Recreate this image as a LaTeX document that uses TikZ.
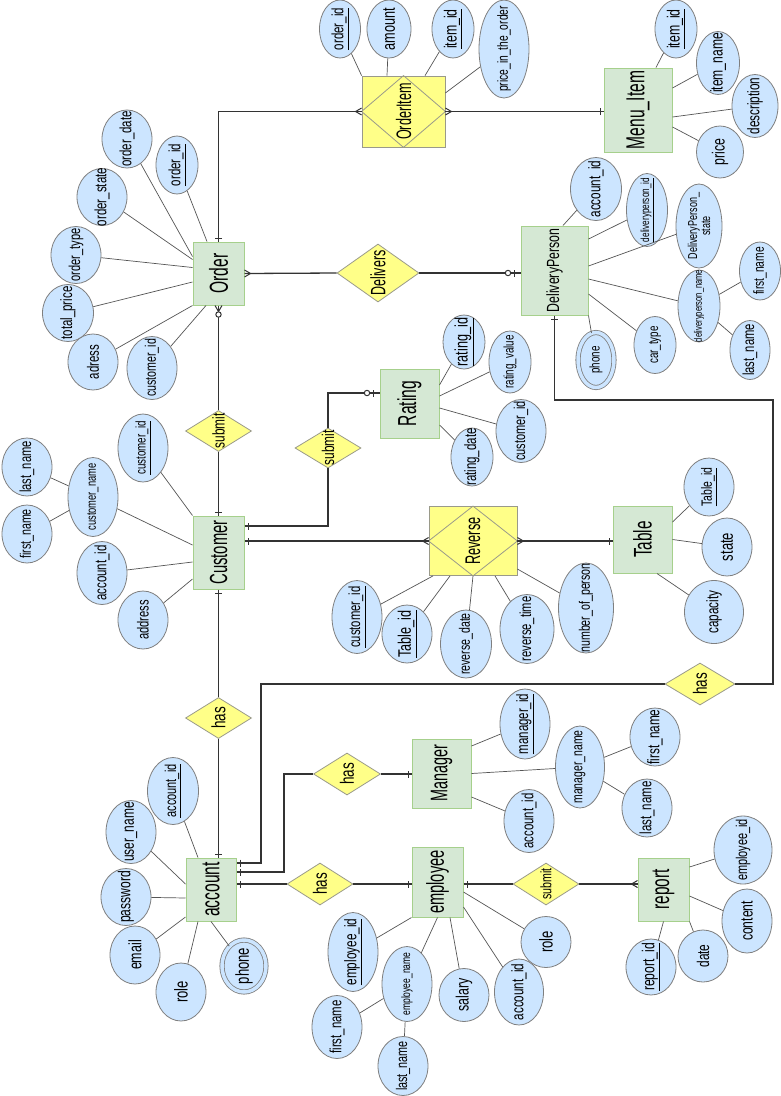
\documentclass[tikz,border=0pt]{standalone}
\usepackage{fontspec}
\setmainfont[FakeStretch=0.7]{Liberation Sans}
\newfontfamily\entf[FakeStretch=0.6]{Liberation Sans}
\usetikzlibrary{shapes.geometric,decorations.markings}
\definecolor{entfill}{HTML}{D5E8D4}
\definecolor{entline}{HTML}{A6D08C}
\definecolor{attrfill}{HTML}{CCE5FF}
\definecolor{attrline}{HTML}{7F7F7F}
\definecolor{relfill}{HTML}{FFFF88}
\definecolor{relline}{HTML}{9A9A8A}
\definecolor{conn}{HTML}{333333}
\definecolor{aconn}{HTML}{555555}
\newcommand{\fs}[1]{\fontsize{#1}{#1}\selectfont}
\tikzset{
 attr/.style 2 args={ellipse, draw=attrline, fill=attrfill, line width=0.8pt, minimum width=#1pt, minimum height=#2pt, inner sep=0pt},
 multi/.style={double=attrfill, double distance=3.5pt},
 ent/.style 2 args={rectangle, draw=entline, fill=entfill, line width=1pt, minimum width=#1pt, minimum height=#2pt, inner sep=0pt},
 rel/.style 2 args={diamond, draw=relline, fill=relfill, line width=0.8pt, minimum width=#1pt, minimum height=#2pt, inner sep=0pt},
 assoc/.style 2 args={rectangle, draw=relline, fill=relfill, line width=0.8pt, minimum width=#1pt, minimum height=#2pt, inner sep=0pt},
 lt/.style={rotate=90, inner sep=0pt, align=center, font=\fs{14}},
 al/.style={draw=aconn, line width=0.7pt},
 rl/.style={draw=conn, color=conn, line width=1.3pt},
 oneS/.style={postaction={decorate,decoration={markings,mark=at position 3.5pt with {\draw[line width=1pt] (0,-3.5pt)--(0,3.5pt);}}}},
 oneE/.style={postaction={decorate,decoration={markings,mark=at position -3.5pt with {\draw[line width=1pt] (0,-3.5pt)--(0,3.5pt);}}}},
 manyS/.style={postaction={decorate,decoration={markings,mark=at position 6pt with {\draw[line width=1pt] (0,0)--(-6pt,3.5pt) (0,0)--(-6pt,-3.5pt);}}}},
 manyE/.style={postaction={decorate,decoration={markings,mark=at position -6pt with {\draw[line width=1pt] (0,0)--(6pt,3.5pt) (0,0)--(6pt,-3.5pt);}}}},
 zoneE/.style={postaction={decorate,decoration={markings,mark=at position -6pt with {\draw[line width=1pt] (0,-3.5pt)--(0,3.5pt);}}},
               postaction={decorate,decoration={markings,mark=at position -12.5pt with {\draw[line width=1pt,fill=white] (0,0) circle (2.7pt);}}}},
 zmanyS/.style={postaction={decorate,decoration={markings,mark=at position 6pt with {\draw[line width=1pt] (0,0)--(-6pt,3.5pt) (0,0)--(-6pt,-3.5pt);}}},
               postaction={decorate,decoration={markings,mark=at position 9pt with {\draw[line width=1pt,fill=white] (0,0) circle (2.7pt);}}}},
}
% \An[opts]{name}{x,y}{w}{h}{fontsize}{text}
\newcommand{\An}[7][]{\node[attr={#4}{#5},#1,label={[lt,font=\fs{#6}]center:#7}] (#2) at (#3) {};}
\newcommand{\En}[6]{\node[ent={#3}{#4},label={[lt,font=\entf\fs{#5}]center:#6}] (#1) at (#2) {};}
\newcommand{\Rn}[6]{\node[rel={#3}{#4},label={[lt,font=\fs{#5}]center:#6}] (#1) at (#2) {};}
\begin{document}
\begin{tikzpicture}[x=1pt,y=-1pt]
\fill[white] (0,0) rectangle (781,1096);
\useasboundingbox (0,0) rectangle (781,1096);

% ---------- entities and relationships ----------
\En{order}{218.5,273.5}{51}{63}{26}{Order}
\node[assoc={83}{71}] (oi) at (403.5,111.5) {};
\draw[draw=relline, line width=0.8pt] (oi.west) -- (oi.north) -- (oi.east) -- (oi.south) -- cycle;
\node[lt, font=\entf\fs{21}] (oi-t) at (oi) {OrderItem};
\En{menu}{638,110}{68}{84}{26}{Menu\_Item}
\node[ent={67}{89},label={[lt,font=\fs{17.6}]center:DeliveryPerson}] (dp) at (554.5,270.5) {};
\Rn{delivers}{378,273}{82}{58}{20.8}{{\entf Delivers}}
\En{cust}{218.5,552.5}{51}{73}{24.7}{Customer}
\Rn{sub1}{218.5,431}{66}{41}{17}{submit}
\En{rating}{409.5,403.5}{59}{69}{26}{Rating}
\Rn{sub2}{328,448}{66}{40}{17}{submit}
\node[assoc={88}{69}] (rev) at (473,541) {};
\draw[draw=relline, line width=0.8pt] (rev.west) -- (rev.north) -- (rev.east) -- (rev.south) -- cycle;
\node[lt, font=\entf\fs{21.2}] (rev-t) at (rev) {Reverse};
\En{table}{642.5,539.5}{59}{67}{25.5}{Table}
\Rn{has1}{218.5,718}{66}{41}{19.3}{has}
\Rn{has2}{700,684}{70}{42}{19.3}{has}
\En{acc}{211,889.5}{50}{63}{26}{account}
\Rn{has3}{347,774}{67}{42}{19.3}{has}
\En{mgr}{441.5,773.5}{59}{69}{24}{Manager}
\Rn{has4}{320,884}{66}{42}{19.3}{has}
\En{emp}{437.5,882}{51}{70}{24.4}{employee}
\Rn{sub3}{546,884}{66}{42}{15.2}{submit}
\En{rep}{663.5,889.5}{51}{63}{25.6}{report}

% ---------- attributes ----------
% Order
\An{o-id}{177,165}{42}{58}{16.4}{\underline{order\_id}}
\An{o-date}{127,139}{50}{58}{16.4}{order\_date}
\An{o-state}{102,197}{50}{57}{16.4}{order\_state}
\An{o-type}{76,255}{50}{57}{15.8}{order\_type}
\An{o-price}{68,313}{51}{57}{16.4}{total\_price}
\An{o-adr}{93,362}{50}{56}{16.4}{adress}
\An{o-cust}{152,368}{50}{63}{15.2}{customer\_id}
% OrderItem
\An{oi-oid}{340,29}{41}{58}{16.4}{\underline{order\_id}}
\An{oi-amt}{389,29}{44}{58}{18.1}{amount}
\An{oi-iid}{453,29}{42}{58}{17.6}{\underline{item\_id}}
\An{oi-price}{504,49}{50}{98}{14.7}{price\_in\_the\_order}
% Menu_Item
\An{mi-id}{676,29}{42}{58}{17.6}{\underline{item\_id}}
\An{mi-name}{718,63}{43}{63}{17.3}{item\_name}
\An{mi-desc}{755,106}{46}{63}{16.8}{description}
\An{mi-price}{720,152}{47}{52}{17.6}{price}
% DeliveryPerson
\An{dp-acc}{596,189}{51}{63}{16.8}{account\_id}
\An{dp-id}{647,210}{41}{73}{11.7}{\underline{deliveryperson\_id}}
\An{dp-state}{699,226}{46}{84}{12.9}{DeliveryPerson\_\\state}
\An{dp-name}{699,306}{42}{72}{10.8}{deliveryperson\_name}
\An{dp-fn}{760,271}{41}{58}{14.6}{first\_name}
\An{dp-ln}{750,350}{40}{59}{16}{last\_name}
\An{dp-car}{655,345}{42}{57}{14}{car\_type}
\An[multi]{dp-phone}{596,360}{36}{55}{14}{phone}
% Customer
\An{c-id}{143,448}{50}{68}{14}{\underline{customer\_id}}
\An{c-name}{93,497}{50}{79}{13.3}{customer\_name}
\An{c-ln}{27,467}{50}{58}{16}{last\_name}
\An{c-fn}{27,534}{50}{58}{15.2}{first\_name}
\An{c-acc}{102,573}{50}{63}{16.4}{account\_id}
\An{c-adr}{143,620}{50}{58}{16}{address}
% Rating
\An{r-id}{464,342}{42}{54}{18.1}{\underline{rating\_id}}
\An{r-val}{510,362}{42}{62}{14}{rating\_value}
\An{r-cust}{521,431}{50}{63}{15.7}{customer\_id}
\An{r-date}{472,457}{42}{58}{16.4}{rating\_date}
% Table
\An{t-id}{709,487}{50}{58}{14.9}{\underline{Table\_id}}
\An{t-state}{727,547}{50}{58}{18.6}{state}
\An{t-cap}{714,612}{59}{63}{16.7}{capacity}
% Reverse
\An{rv-cust}{357,617}{50}{73}{16.1}{\underline{customer\_id}}
\An{rv-tid}{407,634}{50}{58}{18.1}{\underline{Table\_id}}
\An{rv-date}{466,644}{51}{68}{15.1}{reverse\_date}
\An{rv-time}{527,629}{54}{69}{16}{reverse\_time}
\An{rv-num}{586,608}{55}{90}{15.2}{number\_of\_person}
% Manager
\An{m-id}{525,724}{50}{70}{16.4}{\underline{manager\_id}}
\An{m-name}{580,767}{49}{82}{14.9}{manager\_name}
\An{m-fn}{655,737}{50}{58}{16.8}{first\_name}
\An{m-ln}{647,808}{50}{58}{16.4}{last\_name}
\An{m-acc}{529,821}{50}{63}{16.3}{account\_id}
% employee
\An{e-id}{353,952}{50}{79}{16.8}{\underline{employee\_id}}
\An{e-name}{407,984}{50}{75}{12.2}{employee\_name}
\An{e-fn}{337,1027}{50}{63}{16.3}{first\_name}
\An{e-ln}{403,1066}{50}{59}{15.4}{last\_name}
\An{e-sal}{464,995}{50}{53}{17.8}{salary}
\An{e-acc}{519,992}{49}{66}{16.7}{account\_id}
\An{e-role}{546,942}{50}{51}{18.6}{role}
% report
\An{rp-emp}{743,850}{58}{68}{15.6}{employee\_id}
\An{rp-cont}{747,921}{50}{64}{17.4}{content}
\An{rp-date}{703,956}{50}{52}{17}{date}
\An{rp-id}{651,967}{50}{56}{17.3}{\underline{report\_id}}
% account
\An{a-id}{173,791}{51}{67}{15.7}{\underline{account\_id}}
\An{a-user}{131,832}{50}{63}{17.1}{user\_name}
\An{a-pass}{126,897}{50}{57}{17.3}{password}
\An{a-mail}{135,955}{50}{58}{17.9}{email}
\An{a-role}{181,992}{50}{58}{18.6}{role}
\An[multi]{a-phone}{244,966}{44}{52}{18.7}{phone}

% ---------- attribute links ----------
\draw[al] (o-id) -- ([xshift=-11.5pt]order.north);
\draw[al] (o-date) -- ([yshift=17pt]order.west);
\draw[al] (o-state) -- ([yshift=14pt]order.west);
\draw[al] (o-type) -- ([yshift=6pt]order.west);
\draw[al] (o-price) -- ([yshift=-8.5pt]order.west);
\draw[al] (o-adr) -- (order.south west);
\draw[al] (o-cust) -- ([xshift=-12.5pt]order.south);

\draw[al] (oi-oid) -- (oi.north west);
\draw[al] (oi-amt) -- ([xshift=-16.5pt]oi.north);
\draw[al] (oi-iid) -- ([xshift=21.5pt]oi.north);
\draw[al] (oi-price) -- ([yshift=18.5pt]oi.east);

\draw[al] (mi-id) -- ([xshift=18pt]menu.north);
\draw[al] (mi-name) -- ([yshift=22pt]menu.east);
\draw[al] (mi-desc) -- ([yshift=-7pt]menu.east);
\draw[al] (mi-price) -- ([yshift=-17pt]menu.east);

\draw[al] (dp-acc) -- ([xshift=8.5pt]dp.north);
\draw[al] (dp-id) -- ([yshift=31.5pt]dp.east);
\draw[al] (dp-state) -- ([yshift=4.5pt]dp.east);
\draw[al] (dp-name) -- ([yshift=-8.5pt]dp.east);
\draw[al] (dp-car) -- ([yshift=-23.5pt]dp.east);
\draw[al] (dp-phone) -- (dp.south east);
\draw[al] (dp-name) -- (dp-fn);
\draw[al] (dp-name) -- (dp-ln);

\draw[al] (c-id) -- (cust.north west);
\draw[al] (c-name) -- ([yshift=7.5pt]cust.west);
\draw[al] (c-acc) -- ([yshift=-9.5pt]cust.west);
\draw[al] (c-adr) -- ([yshift=-26.5pt]cust.west);
\draw[al] (c-name) -- (c-ln);
\draw[al] (c-name) -- (c-fn);

\draw[al] (r-id) -- ([yshift=18.5pt]rating.east);
\draw[al] (r-val) -- ([yshift=7.5pt]rating.east);
\draw[al] (r-cust) -- ([yshift=-4.5pt]rating.east);
\draw[al] (r-date) -- ([yshift=-21.5pt]rating.east);

\draw[al] (t-id) -- ([yshift=17.5pt]table.east);
\draw[al] (t-state) -- (table.east);
\draw[al] (t-cap) -- ([xshift=14.5pt]table.south);

\draw[al] (rv-cust) -- ([xshift=-40pt]rev.south);
\draw[al] (rv-tid) -- ([xshift=-23pt]rev.south);
\draw[al] (rv-date) -- (rev.south);
\draw[al] (rv-time) -- ([xshift=22pt]rev.south);
\draw[al] (rv-num) -- ([yshift=-28pt]rev.east);

\draw[al] (m-id) -- ([yshift=27.5pt]mgr.east);
\draw[al] (m-name) -- (mgr.east);
\draw[al] (m-acc) -- ([yshift=-23.5pt]mgr.east);
\draw[al] (m-name) -- (m-fn);
\draw[al] (m-name) -- (m-ln);

\draw[al] (e-id) -- (emp.south west);
\draw[al] (e-name) -- (emp.south);
\draw[al] (e-sal) -- ([xshift=12.5pt]emp.south);
\draw[al] (e-acc) -- ([yshift=-25pt]emp.east);
\draw[al] (e-role) -- ([yshift=-10pt]emp.east);
\draw[al] (e-name) -- (e-fn);
\draw[al] (e-name) -- (e-ln);

\draw[al] (rp-emp) -- ([yshift=22.5pt]rep.east);
\draw[al] (rp-cont) -- ([yshift=-6.5pt]rep.east);
\draw[al] (rp-date) -- (rep.south east);
\draw[al] (rp-id) -- (rep.south);

\draw[al] (a-id) -- ([xshift=-13pt]acc.north);
\draw[al] (a-user) -- ([yshift=5.5pt]acc.west);
\draw[al] (a-pass) -- ([yshift=-8.5pt]acc.west);
\draw[al] (a-mail) -- ([yshift=-27.5pt]acc.west);
\draw[al] (a-role) -- ([xshift=-13pt]acc.south);
\draw[al] (a-phone) -- (acc.south);

% ---------- relationship connectors ----------
\coordinate (r1) at (773,400);
\coordinate (l1) at (261,863);
\coordinate (l2) at (284,872);
\draw[rl, oneS, manyE] (order.north) |- (oi.west);
\draw[rl, manyS, oneE] (oi.east) -- (oi.east -| menu.west);
\draw[rl, manyS] (order.east) -- (delivers.west);
\draw[rl, zoneE] (delivers.east) -- (delivers.east -| dp.west);
\draw[rl, zmanyS] (order.south) -- (sub1.north);
\draw[rl, oneE] (sub1.south) -- (cust.north);
\draw[rl, oneS] ([yshift=26.5pt]cust.east) -| (sub2.south);
\draw[rl, zoneE] (sub2.north) |- ([yshift=10.5pt]rating.west);
\draw[rl, oneS, manyE] (rev.west -| cust.east) -- (rev.west);
\draw[rl, manyS, oneE] (rev.east) -- (rev.east -| table.west);
\draw[rl, oneS] (cust.south) -- (has1.north);
\draw[rl, oneE] (has1.south) -- (has1.south |- acc.north);
\draw[rl, oneS] (dp.south) |- (r1) |- (has2.east);
\draw[rl, oneE] (has2.west) -| (l1) -- (l1 -| acc.east);
\draw[rl, oneS] (acc.east |- l2) -- (l2) |- (has3.west);
\draw[rl, oneE] (has3.east) -- (has3.east -| mgr.west);
\draw[rl, oneS] (acc.east |- has4.west) -- (has4.west);
\draw[rl, oneE] (has4.east) -- (has4.east -| emp.west);
\draw[rl, oneS] (emp.east |- sub3.west) -- (sub3.west);
\draw[rl, manyE] (sub3.east) -- (sub3.east -| rep.west);
\end{tikzpicture}
\end{document}
